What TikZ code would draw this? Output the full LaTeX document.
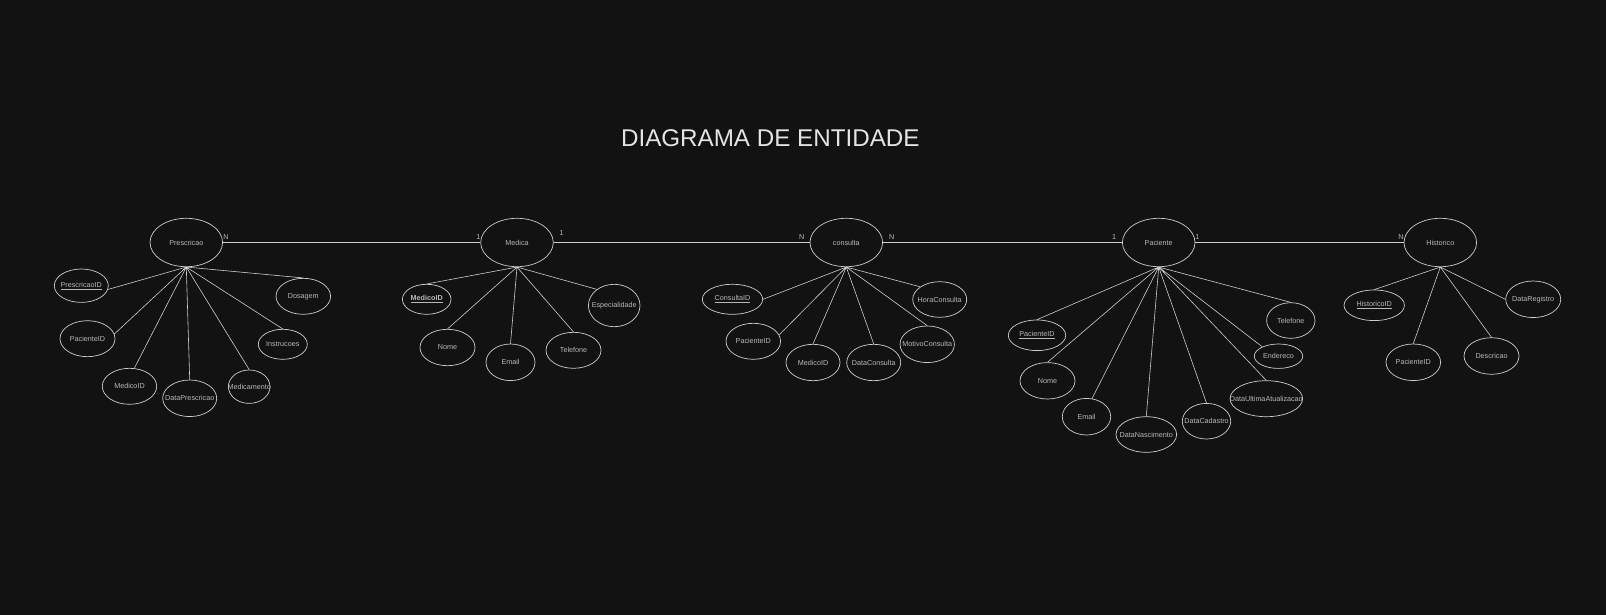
\documentclass[tikz,border=0pt]{standalone}
\usepackage{fontspec}
\setmainfont{Liberation Sans}
\usepackage{xcolor}
\usepackage{tikz}
\usetikzlibrary{shapes.geometric}
\definecolor{bgdark}{RGB}{18,18,18}
\definecolor{edgegray}{RGB}{205,205,205}
\definecolor{labelgray}{RGB}{185,185,185}
\definecolor{titlegray}{RGB}{228,228,228}

\begin{document}
\begin{tikzpicture}[
    x=1pt, y=-1pt,
    every node/.style={font=\fontsize{7.2}{8.6}\selectfont, text=labelgray},
    ent/.style={ellipse, draw=edgegray, line width=0.7pt, minimum width=72.6pt, minimum height=48.4pt, inner sep=0pt},
    attr/.style={ellipse, draw=edgegray, line width=0.7pt, inner sep=0pt, minimum width=54pt, minimum height=36pt},
    lnk/.style={draw=edgegray, line width=0.6pt},
    card/.style={inner sep=0pt}
]
\fill[bgdark] (0,0) rectangle (1606,615);

\node[font=\fontsize{24.2}{28}\selectfont, text=titlegray, inner sep=0pt] (title) at (770.3,138.3) {DIAGRAMA DE ENTIDADE};

% entidades
\node[ent] (presc) at (186.3,242.5) {Prescricao};
\node[ent] (medica) at (517,242.5) {Medica};
\node[ent] (consulta) at (846.3,242.5) {consulta};
\node[ent] (paciente) at (1158.7,242.5) {Paciente};
\node[ent] (historico) at (1440.3,242.5) {Historico};

\draw[lnk] (presc.east) -- (medica.west);
\draw[lnk] (medica.east) -- (consulta.west);
\draw[lnk] (consulta.east) -- (paciente.west);
\draw[lnk] (paciente.east) -- (historico.west);

\node[card] (cardPM) at (226,237.3) {N};
\node[card] (cardMP) at (478.3,237.3) {1};
\node[card] (cardMC) at (561.7,233.3) {1};
\node[card] (cardCM) at (801.7,237.3) {N};
\node[card] (cardCP) at (891.7,237.3) {N};
\node[card] (cardPC) at (1114,237.3) {1};
\node[card] (cardPH) at (1197.3,237.3) {1};
\node[card] (cardHP) at (1401,237.3) {N};

% Prescricao
\node[attr, minimum height=33.4pt, label={center:\underline{PrescricaoID}}] (prescID) at (81.3,285.7) {};
\node[attr, minimum width=55pt, label={center:PacienteID}] (prescPac) at (87.5,338.7) {};
\node[attr, minimum width=54.4pt, label={center:MedicoID}] (prescMed) at (129.5,386.3) {};
\node[attr, minimum height=36.6pt, label={center:DataPrescricao}] (prescData) at (189.7,398.3) {};
\node[attr, minimum width=41.6pt, minimum height=33.4pt, label={center:Medicamento}] (prescMedic) at (249.2,386.7) {};
\node[attr, minimum width=49pt, minimum height=30pt, label={center:Instrucoes}] (prescInstr) at (282.8,344.3) {};
\node[attr, minimum width=54.6pt, label={center:Dosagem}] (prescDos) at (303.3,296.3) {};
\draw[lnk] (presc.south) -- (prescID.-8)
           (presc.south) -- (prescPac.10)
           (presc.south) -- (prescMed.75)
           (presc.south) -- (prescData.north)
           (presc.south) -- (prescMedic.north)
           (presc.south) -- (prescInstr.north)
           (presc.south) -- (prescDos.north);

% Medica
\node[attr, minimum width=48.6pt, minimum height=30pt, label={center:\underline{\textbf{MedicoID}}}] (medID) at (426.7,299.3) {};
\node[attr, minimum width=55pt, minimum height=36.4pt, label={center:Nome}] (medNome) at (447.5,347.5) {};
\node[attr, minimum width=49pt, minimum height=36.6pt, label={center:Email}] (medEmail) at (510.5,362.3) {};
\node[attr, minimum width=55pt, label={center:Telefone}] (medTel) at (573.5,350.3) {};
\node[attr, minimum width=51.6pt, minimum height=42.4pt, label={center:Especialidade}] (medEsp) at (614.2,305.5) {};
\draw[lnk] (medica.south) -- (medID.north)
           (medica.south) -- (medNome.north)
           (medica.south) -- (medEmail.north)
           (medica.south) -- (medTel.north)
           (medica.south) -- (medEsp.137);

% consulta
\node[attr, minimum width=60.4pt, minimum height=30pt, label={center:\underline{ConsultaID}}] (conID) at (732.5,299.3) {};
\node[attr, minimum width=54.6pt, label={center:PacienteID}] (conPac) at (753.3,341.3) {};
\node[attr, minimum height=36.4pt, label={center:MedicoID}] (conMed) at (813,362.5) {};
\node[attr, minimum height=36.4pt, label={center:DataConsulta}] (conData) at (873.7,362.5) {};
\node[attr, minimum width=54.4pt, minimum height=36.6pt, label={center:MotivoConsulta}] (conMot) at (927.2,344.3) {};
\node[attr, minimum height=35.6pt, label={center:HoraConsulta}] (conHora) at (939.7,299.5) {};
\draw[lnk] (consulta.south) -- (conID.east)
           (consulta.south) -- (conPac.14)
           (consulta.south) -- (conMed.north)
           (consulta.south) -- (conData.north)
           (consulta.south) -- (conMot.north)
           (consulta.south) -- (conHora.147);

% Paciente
\node[attr, minimum width=57.4pt, minimum height=30.6pt, label={center:\underline{PacienteID}}] (pacID) at (1037,335.3) {};
\node[attr, minimum width=55pt, minimum height=36.4pt, label={center:Nome}] (pacNome) at (1047.5,380.8) {};
\node[attr, minimum width=48.4pt, minimum height=36.6pt, label={center:Email}] (pacEmail) at (1086.5,416.7) {};
\node[attr, minimum width=60.6pt, minimum height=35.6pt, label={center:DataNascimento}] (pacNasc) at (1146.3,434.5) {};
\node[attr, minimum width=48.4pt, minimum height=35.6pt, label={center:DataCadastro}] (pacCad) at (1206.5,421.2) {};
\node[attr, minimum width=72.6pt, label={center:DataUltimaAtualizacao}] (pacAtual) at (1266.3,398.7) {};
\node[attr, minimum width=48.4pt, minimum height=24.4pt, label={center:Endereco}] (pacEnd) at (1278.5,356.2) {};
\node[attr, minimum width=48.4pt, minimum height=35.6pt, label={center:Telefone}] (pacTel) at (1290.8,320.5) {};
\draw[lnk] (paciente.south) -- (pacID.north)
           (paciente.south) -- (pacNome.north)
           (paciente.south) -- (pacEmail.73)
           (paciente.south) -- (pacNasc.north)
           (paciente.south) -- (pacCad.north)
           (paciente.south) -- (pacAtual.north)
           (paciente.south) -- (pacEnd.150)
           (paciente.south) -- (pacTel.north);

% Historico
\node[attr, minimum width=60.4pt, minimum height=30.6pt, label={center:\underline{HistoricoID}}] (histID) at (1374.2,305.3) {};
\node[attr, minimum width=54.6pt, minimum height=36.6pt, label={center:PacienteID}] (histPac) at (1413.3,362.3) {};
\node[attr, minimum width=55pt, minimum height=36.6pt, label={center:Descricao}] (histDesc) at (1491.5,356) {};
\node[attr, minimum width=55pt, minimum height=36.6pt, label={center:DataRegistro}] (histData) at (1533.2,299.3) {};
\draw[lnk] (historico.south) -- (histID.north)
           (historico.south) -- (histPac.north)
           (historico.south) -- (histDesc.north)
           (historico.south) -- (histData.west);
\end{tikzpicture}
\end{document}
